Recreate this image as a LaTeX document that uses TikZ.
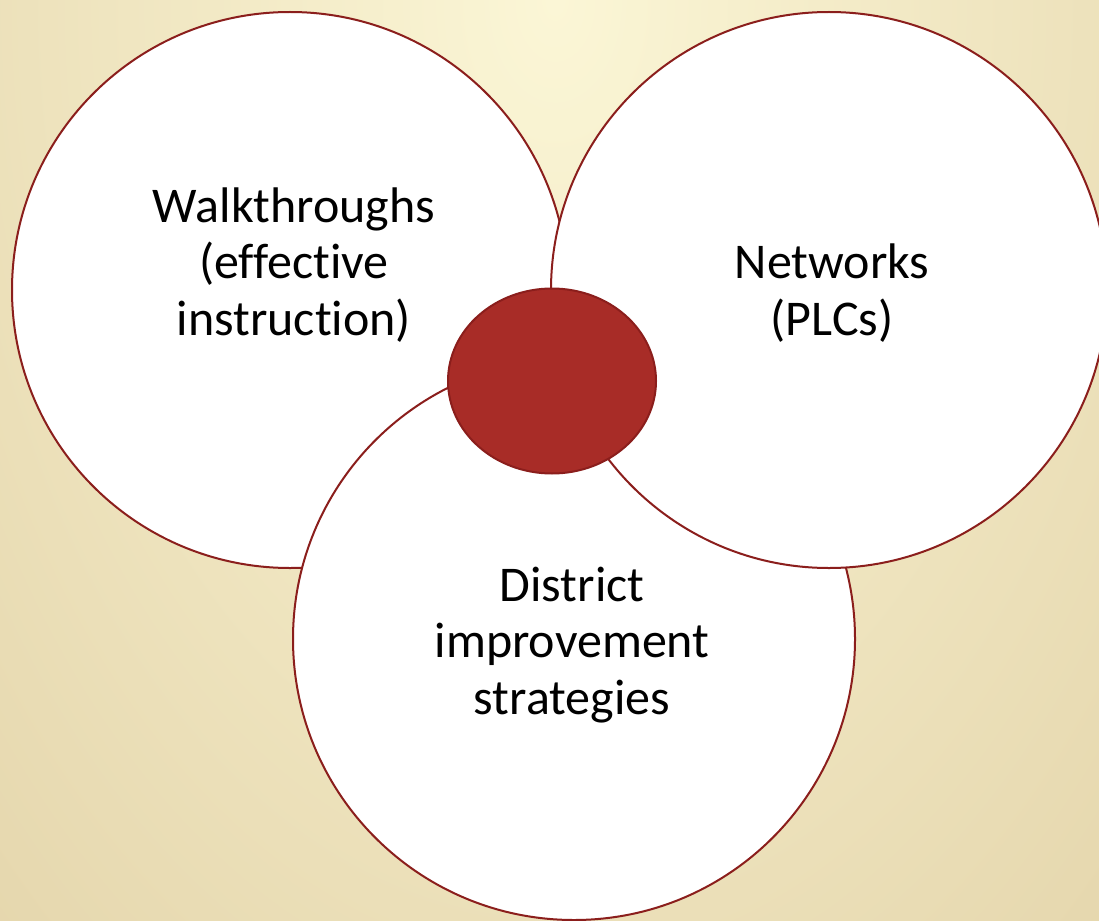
\documentclass[tikz,border=0pt]{standalone}
\usepackage{fontspec}
\setmainfont{Carlito}[Ligatures=NoCommon]
\usetikzlibrary{shapes.geometric}
\definecolor{bglight}{HTML}{FBF6D6}
\definecolor{bgdark}{HTML}{D9C596}
\definecolor{rimred}{HTML}{8B1E1C}
\definecolor{corered}{HTML}{A82C27}
\begin{document}
\begin{tikzpicture}[x=1pt,y=-1pt,
  bubble/.style={circle, draw=rimred, line width=2pt, fill=white, inner sep=0pt},
  core/.style={ellipse, draw=rimred, line width=2pt, fill=corered, inner sep=0pt,
    minimum width=208pt, minimum height=185pt},
  label/.style={align=center, font=\fontsize{50}{56.5}\selectfont, text=black, inner sep=0pt}]
\useasboundingbox (0,0) rectangle (1099,920);
\begin{scope}
  \clip (0,0) rectangle (1099,920);
  \shade[inner color=bglight, outer color=bgdark] (555,0) ellipse [x radius=1300pt, y radius=2000pt];
\end{scope}
\node[bubble, minimum size=556pt] (L) at (290,290) {};
\node[bubble, minimum size=562pt] (B) at (574,639) {};
\node[bubble, minimum size=556pt] (R) at (829,290) {};
\node[core] (C) at (552,381) {};
\node[label] (tL) at (294,265) {Walkthroughs\\(effective\\instruction)};
\node[label] (tR) at (832,293) {Networks\\(PLCs)};
\node[label] (tB) at (572,645) {District\\improvement\\strategies};
\end{tikzpicture}
\end{document}
